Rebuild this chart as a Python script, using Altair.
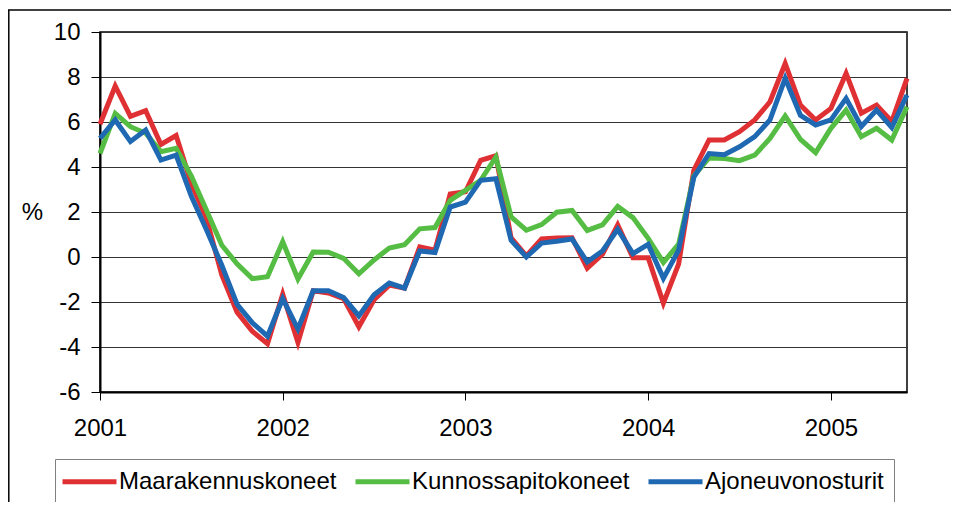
import altair as alt
import pandas as pd

series_names = ["Maarakennuskoneet", "Kunnossapitokoneet", "Ajoneuvonosturit"]
series_colors = ["#DF3034", "#55BD43", "#1F68B2"]

# Monthly observations, Jan 2001 .. Jun 2005
months = [f"{y}-{m:02d}" for y in range(2001, 2006) for m in range(1, 13)][:54]

maarakennuskoneet = [
    5.9, 7.6, 6.25, 6.5, 5.0, 5.4, 3.25, 1.7, -0.8, -2.45, -3.3, -3.85,
    -1.65, -3.8, -1.5, -1.6, -1.85, -3.1, -1.9, -1.25, -1.38, 0.45, 0.3, 2.8,
    2.9, 4.3, 4.5, 0.85, 0.05, 0.8, 0.85, 0.86, -0.5, 0.12, 1.43, -0.03,
    -0.03, -2.05, -0.32, 3.85, 5.2, 5.2, 5.57, 6.09, 6.9, 8.6, 6.75, 6.09,
    6.6, 8.16, 6.39, 6.75, 6.02, 7.94,
]
kunnossapitokoneet = [
    4.6, 6.38, 5.79, 5.5, 4.68, 4.83, 3.6, 2.07, 0.52, -0.3, -0.96, -0.88,
    0.68, -0.98, 0.22, 0.21, -0.06, -0.75, -0.13, 0.4, 0.55, 1.25, 1.31, 2.52,
    2.96, 3.41, 4.44, 1.78, 1.19, 1.44, 1.99, 2.07, 1.18, 1.43, 2.25, 1.75,
    0.83, -0.24, 0.57, 3.6, 4.4, 4.38, 4.28, 4.53, 5.27, 6.27, 5.23, 4.64,
    5.72, 6.53, 5.35, 5.72, 5.2, 6.68,
]
ajoneuvonosturit = [
    5.27, 6.09, 5.13, 5.64, 4.31, 4.53, 2.7, 1.2, -0.37, -2.1, -2.92, -3.52,
    -1.85, -3.2, -1.5, -1.5, -1.8, -2.62, -1.68, -1.16, -1.38, 0.27, 0.2, 2.22,
    2.44, 3.41, 3.48, 0.74, 0.0, 0.62, 0.7, 0.8, -0.22, 0.27, 1.23, 0.15,
    0.56, -0.95, 0.3, 3.55, 4.6, 4.55, 4.9, 5.35, 6.09, 7.94, 6.3, 5.87,
    6.09, 7.05, 5.8, 6.53, 5.76, 7.2,
]

year_ticks = [0, 12, 24, 36, 48]
y_ticks = [-6, -4, -2, 0, 2, 4, 6, 8, 10]

rows = []
for name, vals in zip(series_names, [maarakennuskoneet, kunnossapitokoneet, ajoneuvonosturit]):
    for i, (m, v) in enumerate(zip(months, vals)):
        rows.append({"idx": i, "month": m, "series": name, "value": v})
df = pd.DataFrame(rows)

FONT = "Liberation Sans"
FS = 24

x_enc = alt.X(
    "idx:Q",
    scale=alt.Scale(domain=[0, 53], nice=False, zero=False),
    axis=alt.Axis(
        values=year_ticks,
        labelExpr="'' + (2001 + datum.value / 12)",
        labelFlush=False,
        labelOverlap=False,
        title=None,
        grid=False,
        tickSize=8,
        labelPadding=16,
        labelFontSize=FS,
        labelFont=FONT,
        labelColor="black",
        domainColor="black",
        domainWidth=2,
        tickColor="black",
    ),
)
y_enc = alt.Y(
    "value:Q",
    scale=alt.Scale(domain=[-6, 10], nice=False, zero=False),
    axis=alt.Axis(
        values=y_ticks,
        labelExpr="'' + datum.value",
        title="%",
        titleAngle=0,
        titleX=-68,
        titleY=180,
        titleAlign="center",
        titleBaseline="middle",
        titleFontWeight="normal",
        titleFontSize=FS,
        titleFont=FONT,
        titleColor="black",
        grid=True,
        gridColor="#333333",
        gridWidth=1,
        tickSize=9,
        labelPadding=11,
        labelFontSize=FS,
        labelFont=FONT,
        labelColor="black",
        labelOverlap=False,
        domainColor="black",
        domainWidth=2,
        tickColor="black",
    ),
)
color_enc = alt.Color(
    "series:N",
    scale=alt.Scale(domain=series_names, range=series_colors),
    legend=alt.Legend(
        title=None,
        orient="none",
        legendX=-45,
        legendY=427,
        direction="horizontal",
        symbolType="M-1.5,0H3.9",
        symbolSize=400,
        symbolStrokeWidth=5,
        labelFontSize=FS,
        labelFont=FONT,
        labelColor="black",
        labelOffset=29,
        labelLimit=500,
        columnPadding=8,
        padding=10,
        strokeColor="#808080",
    ),
)

layers = []
for name in series_names:
    layers.append(
        alt.Chart(df)
        .transform_filter(alt.datum.series == name)
        .mark_line(strokeWidth=5)
        .encode(x=x_enc, y=y_enc, color=color_enc, order="idx:Q")
    )

frame = pd.DataFrame({"k": [0]})
top_border = alt.Chart(frame).mark_rule(color="black", strokeWidth=1.5).encode(
    x=alt.value(-92), x2=alt.value(900), y=alt.value(-22)
)
left_border = alt.Chart(frame).mark_rule(color="black", strokeWidth=1.5).encode(
    x=alt.value(-91.2), y=alt.value(-22), y2=alt.value(600)
)

chart = (
    alt.layer(*layers, top_border, left_border)
    .properties(
        width=807,
        height=360,
        padding={"left": 92, "top": 24, "right": 44, "bottom": 110},
        autosize=alt.AutoSizeParams(type="none"),
        background="white",
    )
    .configure_view(stroke="black", strokeWidth=1.5)
)

chart.save("out.html", embed_options={"renderer": "svg", "actions": False})
